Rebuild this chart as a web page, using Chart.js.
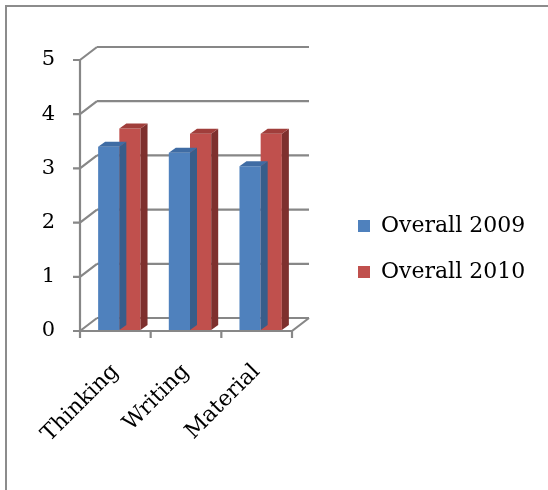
<!DOCTYPE html>
<html>
<head>
<meta charset="utf-8">
<script src="https://cdn.jsdelivr.net/npm/chart.js@4.4.1/dist/chart.umd.min.js"></script>
<style>
  html, body { margin: 0; padding: 0; background: #fff; }
  #wrap { position: relative; width: 548px; height: 490px; }
  #frame { position: absolute; left: 5px; top: 5px; width: 560px; height: 500px;
           border-top: 2px solid #8c8c8c; border-left: 2px solid #8c8c8c; }
  canvas { position: absolute; left: 0; top: 0; }
</style>
</head>
<body>
<div id="wrap">
  <div id="frame"></div>
  <canvas id="chart" width="548" height="490"></canvas>
</div>
<script>
// Chart data
const categories = ['Thinking', 'Writing', 'Material'];
const overall2009 = [3.38, 3.27, 3.02];
const overall2010 = [3.72, 3.62, 3.62];
const yTicks = [0, 1, 2, 3, 4, 5];

const FONT = "'DejaVu Serif', serif";
const GRID_COLOR = '#878787';
const DEPTH = { x: 17, y: -13 };    // wall depth
const BAR_DEPTH = { x: 7, y: -5 };  // bar depth
const BAR_SHIFT = { x: 4, y: -1 };

// Fixed spot for the legend, to the right of the 3D floor
const legendPlace = {
    id: 'legendPlace',
    afterInit(chart) {
        const legend = chart.legend;
        const fit = legend.fit;
        legend.fit = function () {
            fit.call(this);
            this.width = 256;
        };
    },
    afterLayout(chart) {
        const legend = chart.legend;
        legend.left = 334;
        legend.top = 148;
        legend.bottom = 350;
    }
};

// Draws the 3D walls, floor and ticks, then the bar sides and tops
const fake3d = {
    id: 'fake3d',
    beforeDatasetsDraw(chart) {
        const ctx = chart.ctx;
        const yScale = chart.scales.y;
        const left = chart.chartArea.left;
        const right = chart.chartArea.right;
        ctx.save();
        ctx.strokeStyle = GRID_COLOR;
        ctx.lineWidth = 2.2;
        ctx.beginPath();
        yTicks.forEach(v => {
            const y = yScale.getPixelForValue(v);
            // back wall line
            ctx.moveTo(left + DEPTH.x, y + DEPTH.y);
            ctx.lineTo(right + DEPTH.x, y + DEPTH.y);
            // side wall diagonal
            ctx.moveTo(left, y);
            ctx.lineTo(left + DEPTH.x, y + DEPTH.y);
            // tick mark
            ctx.moveTo(left - 7, y);
            ctx.lineTo(left, y);
        });
        const y0 = yScale.getPixelForValue(0);
        const y5 = yScale.getPixelForValue(5);
        ctx.moveTo(left, y5 - 1);
        ctx.lineTo(left, y0);
        // floor front edge and right diagonal
        ctx.moveTo(left, y0);
        ctx.lineTo(right, y0);
        ctx.lineTo(right + DEPTH.x, y0 + DEPTH.y);
        // category ticks
        for (let i = 0; i <= categories.length; i++) {
            const x = left + (right - left) * i / categories.length;
            ctx.moveTo(x, y0);
            ctx.lineTo(x, y0 + 7);
        }
        ctx.stroke();
        ctx.restore();

        ctx.save();
        ctx.translate(BAR_SHIFT.x, BAR_SHIFT.y);
    },
    afterDatasetDraw(chart, args) {
        const ctx = chart.ctx;
        const ds = chart.data.datasets[args.index];
        args.meta.data.forEach(bar => {
            const p = bar.getProps(['x', 'y', 'width', 'base'], true);
            const x1 = p.x - p.width / 2;
            const x2 = p.x + p.width / 2;
            // side face
            ctx.fillStyle = ds.sideColor;
            ctx.beginPath();
            ctx.moveTo(x2, p.y);
            ctx.lineTo(x2 + BAR_DEPTH.x, p.y + BAR_DEPTH.y);
            ctx.lineTo(x2 + BAR_DEPTH.x, p.base + BAR_DEPTH.y);
            ctx.lineTo(x2, p.base);
            ctx.closePath();
            ctx.fill();
            // top face
            ctx.fillStyle = ds.topColor;
            ctx.beginPath();
            ctx.moveTo(x1, p.y);
            ctx.lineTo(x2, p.y);
            ctx.lineTo(x2 + BAR_DEPTH.x, p.y + BAR_DEPTH.y);
            ctx.lineTo(x1 + BAR_DEPTH.x, p.y + BAR_DEPTH.y);
            ctx.closePath();
            ctx.fill();
        });
    },
    afterDatasetsDraw(chart) {
        chart.ctx.restore();
    }
};

new Chart(document.getElementById('chart'), {
    type: 'bar',
    data: {
        labels: categories,
        datasets: [
            {
                label: 'Overall 2009',
                data: overall2009,
                backgroundColor: '#4F81BD',
                sideColor: '#385D8A',
                topColor: '#3F6CA4',
                categoryPercentage: 0.6,
                barPercentage: 1.0
            },
            {
                label: 'Overall 2010',
                data: overall2010,
                backgroundColor: '#C0504D',
                sideColor: '#7E302E',
                topColor: '#A03E3B',
                categoryPercentage: 0.6,
                barPercentage: 1.0
            }
        ]
    },
    options: {
        responsive: false,
        animation: false,
        layout: { padding: { top: 60, left: 0, right: 0, bottom: 0 } },
        plugins: {
            tooltip: { enabled: false },
            legend: {
                position: 'right',
                labels: {
                    boxWidth: 12,
                    boxHeight: 12,
                    padding: 24,
                    color: '#000',
                    font: { family: FONT, size: 22 }
                }
            }
        },
        scales: {
            x: {
                grid: { display: false },
                border: { display: false },
                ticks: {
                    color: '#000',
                    font: { family: FONT, size: 22 },
                    minRotation: 45,
                    maxRotation: 45,
                    padding: 20
                },
                afterFit(scale) { scale.height = 159; }
            },
            y: {
                min: 0,
                max: 5,
                grid: { display: false },
                border: { display: false },
                ticks: {
                    stepSize: 1,
                    color: '#000',
                    font: { family: FONT, size: 21 },
                    padding: 17
                },
                afterFit(scale) { scale.width = 80; }
            }
        }
    },
    plugins: [legendPlace, fake3d]
});
</script>
</body>
</html>
